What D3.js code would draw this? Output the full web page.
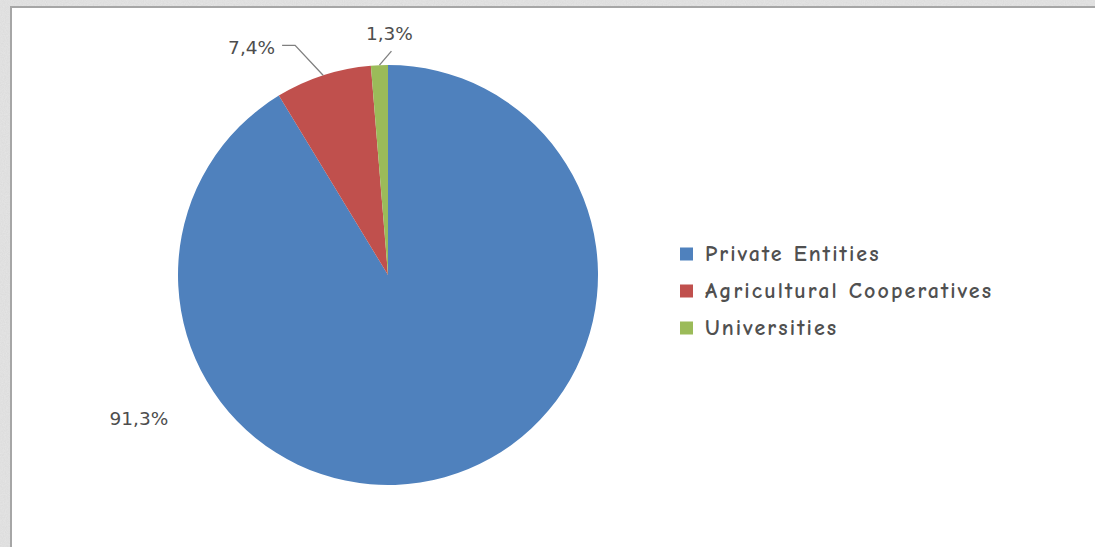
<!DOCTYPE html>
<html>
<head>
<meta charset="utf-8">
<script src="https://cdn.jsdelivr.net/npm/d3@7"></script>
<style>
  html, body { margin: 0; padding: 0; background: #e4e4e4; }
  svg { display: block; }
</style>
</head>
<body>
<svg id="chart" width="1095" height="547"></svg>
<script>
// Share of entities by type
const categories = ["Private Entities", "Agricultural Cooperatives", "Universities"];
const shares = [91.3, 7.4, 1.3];
const labels = ["91,3%", "7,4%", "1,3%"];
const colors = ["#4f81bd", "#c0504d", "#9bbb59"];

const W = 1095, H = 547;
const svg = d3.select("#chart");

// stone-like textured backdrop
const defs = svg.append("defs");
const tex = defs.append("filter").attr("id", "grain")
  .attr("x", 0).attr("y", 0).attr("width", "100%").attr("height", "100%");
tex.append("feTurbulence").attr("type", "fractalNoise")
  .attr("baseFrequency", 0.9).attr("numOctaves", 2).attr("seed", 4).attr("result", "noise");
tex.append("feColorMatrix").attr("in", "noise").attr("type", "matrix")
  .attr("values", "0 0 0 0 0.55  0 0 0 0 0.55  0 0 0 0 0.55  0 0 0 0.35 0");
tex.append("feComposite").attr("in2", "SourceGraphic").attr("operator", "in");

svg.append("rect").attr("width", W).attr("height", H).attr("fill", "#e6e6e6");
svg.append("rect").attr("width", W).attr("height", H).attr("fill", "#e6e6e6")
  .attr("filter", "url(#grain)");

// chart sheet with its frame
svg.append("rect").attr("x", 11).attr("y", 7).attr("width", W).attr("height", H)
  .attr("fill", "#ffffff").attr("stroke", "#a6a6a6").attr("stroke-width", 2);

// pie
const cx = 388, cy = 275, r = 210;
const pie = d3.pie().sort(null).value(d => d)
  .startAngle(0).endAngle(2 * Math.PI);
const arcs = pie(shares);
const arc = d3.arc().innerRadius(0).outerRadius(r);

const g = svg.append("g").attr("transform", `translate(${cx},${cy})`);
g.selectAll("path.slice").data(arcs).enter().append("path")
  .attr("class", "slice")
  .attr("d", arc)
  .attr("fill", (d, i) => colors[i]);

// data labels with leader lines for the thin slices
const labelFont = "'DejaVu Sans', Verdana, sans-serif";
const labelColor = "#4d4d4d";
const polar = (a, rad) => [Math.sin(a) * rad, -Math.cos(a) * rad];
const mid = d => (d.startAngle + d.endAngle) / 2;

// large slice: label set outside the rim, lower left
{
  const labelAngle = 240 * Math.PI / 180;
  const [x, y] = polar(labelAngle, r * 1.37);
  g.append("text").attr("x", x).attr("y", y)
    .attr("text-anchor", "middle").attr("dominant-baseline", "central")
    .attr("font-family", labelFont).attr("font-size", 18.5).attr("fill", labelColor)
    .text(labels[0]);
}

// red slice: label to the left with an elbow leader
{
  const d = arcs[1];
  const [ax, ay] = polar(mid(d), r);
  const elbowX = ax - 28, elbowY = ay - 30;
  g.append("polyline")
    .attr("points", [[ax, ay], [elbowX, elbowY], [elbowX - 13, elbowY]].map(p => p.join(",")).join(" "))
    .attr("fill", "none").attr("stroke", "#7f7f7f").attr("stroke-width", 1.3);
  g.append("text").attr("x", elbowX - 20).attr("y", elbowY + 2)
    .attr("text-anchor", "end").attr("dominant-baseline", "central")
    .attr("font-family", labelFont).attr("font-size", 18.5).attr("fill", labelColor)
    .text(labels[1]);
}

// green slice: label above with a short leader
{
  const d = arcs[2];
  const [ax, ay] = polar(mid(d), r);
  const tx = ax + 12, ty = ay - 14;
  g.append("line").attr("x1", ax).attr("y1", ay).attr("x2", tx).attr("y2", ty)
    .attr("stroke", "#7f7f7f").attr("stroke-width", 1.3);
  g.append("text").attr("x", tx - 2).attr("y", ty - 18)
    .attr("text-anchor", "middle").attr("dominant-baseline", "central")
    .attr("font-family", labelFont).attr("font-size", 18.5).attr("fill", labelColor)
    .text(labels[2]);
}

// legend
const legendY = d3.scalePoint().domain(categories).range([254, 328]);
const lg = svg.append("g");
const items = lg.selectAll("g").data(categories).enter().append("g")
  .attr("transform", d => `translate(680,${legendY(d)})`);
items.append("rect").attr("x", 0).attr("y", -6.5).attr("width", 13).attr("height", 13)
  .attr("fill", (d, i) => colors[i]);
items.append("text").attr("x", 25).attr("y", 0)
  .attr("dominant-baseline", "central")
  .attr("font-family", "'Comic Sans MS', 'Comic Neue', 'DejaVu Sans', sans-serif")
  .attr("font-size", 22).attr("font-weight", "bold").attr("letter-spacing", 2.1)
  .attr("fill", "#505050")
  .text(d => d);
</script>
</body>
</html>
